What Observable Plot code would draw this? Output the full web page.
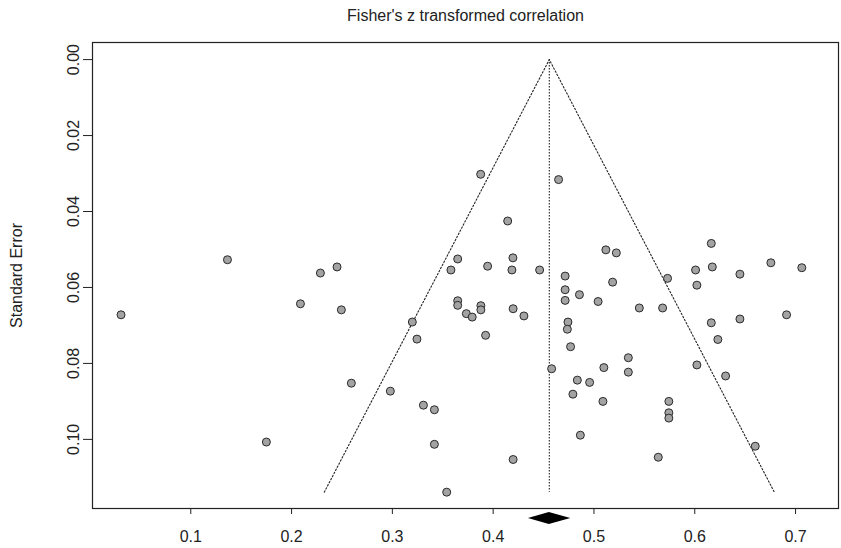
<!DOCTYPE html>
<html><head><meta charset="utf-8">
<script src="https://cdn.jsdelivr.net/npm/d3@7"></script>
<script src="https://cdn.jsdelivr.net/npm/@observablehq/plot@0.6"></script>
<style>body{margin:0;background:#fff;} #chart svg{display:block;}</style>
</head><body><div id="chart"></div>
<script>
const title = "Fisher's z transformed correlation";
const yLabel = "Standard Error";
const xTicks = [0.1, 0.2, 0.3, 0.4, 0.5, 0.6, 0.7];
const yTicks = [0.00, 0.02, 0.04, 0.06, 0.08, 0.10];

// Fisher's z effect sizes and their standard errors
const effect = [0.0308,0.1364,0.1750,0.2088,0.2286,0.2451,0.2494,0.2593,0.2980,0.3198,
  0.3244,0.3308,0.3417,0.3417,0.3539,0.3648,0.3581,0.3648,0.3648,0.3734,
  0.3792,0.3878,0.3878,0.3925,0.3876,0.4144,0.3945,0.4196,0.4186,0.4461,
  0.4198,0.4305,0.4198,0.4714,0.4714,0.4856,0.4714,0.5041,0.4742,0.4736,
  0.4768,0.4580,0.5118,0.5222,0.5185,0.5450,0.5681,0.5730,0.6164,0.6008,
  0.6174,0.6448,0.6755,0.7062,0.6021,0.6164,0.6448,0.6911,0.6229,0.5341,
  0.5098,0.5341,0.6021,0.4835,0.4957,0.4791,0.5089,0.5743,0.5743,0.5743,
  0.4865,0.5638,0.6306,0.6600,0.4649];
const stdErr = [0.0672,0.0527,0.1007,0.0643,0.0562,0.0546,0.0659,0.0852,0.0873,0.0691,
  0.0736,0.0910,0.0922,0.1013,0.1139,0.0525,0.0554,0.0635,0.0647,0.0669,
  0.0678,0.0648,0.0659,0.0726,0.0302,0.0425,0.0544,0.0522,0.0554,0.0554,
  0.0656,0.0675,0.1053,0.0570,0.0606,0.0619,0.0634,0.0637,0.0691,0.0710,
  0.0756,0.0814,0.0501,0.0509,0.0586,0.0654,0.0654,0.0576,0.0484,0.0554,
  0.0546,0.0565,0.0535,0.0548,0.0594,0.0693,0.0683,0.0672,0.0737,0.0785,
  0.0811,0.0823,0.0804,0.0844,0.0850,0.0881,0.0900,0.0900,0.0930,0.0944,
  0.0989,0.1047,0.0833,0.1018,0.0316];

// pooled estimate and its confidence interval
const estimate = 0.4557;
const ciLower = 0.435;
const ciUpper = 0.477;
const zCrit = 1.96;

const studies = effect.map((e, i) => ({x: e, se: stdErr[i]}));
const maxSE = d3.max(stdErr);
const funnel = [
  {x: estimate - zCrit * maxSE, se: maxSE},
  {x: estimate, se: 0},
  {x: estimate + zCrit * maxSE, se: maxSE}
];
const font = "'Liberation Sans Narrow', 'Liberation Sans', Arial, sans-serif";

// summary diamond drawn below the frame, positioned through the x scale
function diamond(index, scales, values, dims) {
  const y0 = dims.height - dims.marginBottom + 10;
  const h = 6;
  const xl = scales.x(ciLower), xm = scales.x(estimate), xr = scales.x(ciUpper);
  const g = d3.create("svg:g");
  g.append("polygon")
    .attr("points", `${xl},${y0} ${xm},${y0 - h} ${xr},${y0} ${xm},${y0 + h}`)
    .attr("fill", "#000");
  return g.node();
}

const chart = Plot.plot({
  width: 841,
  height: 548,
  marginTop: 42,
  marginBottom: 40,
  marginLeft: 92,
  marginRight: 3,
  style: {fontFamily: font, fontSize: "16px", color: "#222", background: "#fff"},
  x: {domain: [0.0025, 0.7426]},
  y: {domain: [-0.0045, 0.1182], reverse: true},
  marks: [
    Plot.frame({stroke: "#222", strokeWidth: 1.2}),
    Plot.axisX({ticks: xTicks, tickSize: 6, tickPadding: 16, label: null, tickFormat: d3.format(".1f")}),
    Plot.axisY({ticks: yTicks, tickSize: 9, tickPadding: 5, tickRotate: -90, tickFormat: d3.format(".2f"),
      label: yLabel, labelAnchor: "center", labelArrow: "none", labelOffset: 82}),
    Plot.line(funnel, {x: "x", y: "se", stroke: "#222", strokeWidth: 1.1, strokeDasharray: "1.5,2"}),
    Plot.ruleX([estimate], {y1: 0, y2: maxSE, stroke: "#222", strokeWidth: 1.1, strokeDasharray: "1.5,1.5"}),
    Plot.dot(studies, {x: "x", y: "se", r: 4, fill: "#a3a3a3", stroke: "#2a2a2a", strokeWidth: 1}),
    diamond,
    Plot.text([title], {frameAnchor: "top", dy: -33, fontSize: 16})
  ]
});
document.getElementById("chart").append(chart);
</script>
</body></html>
